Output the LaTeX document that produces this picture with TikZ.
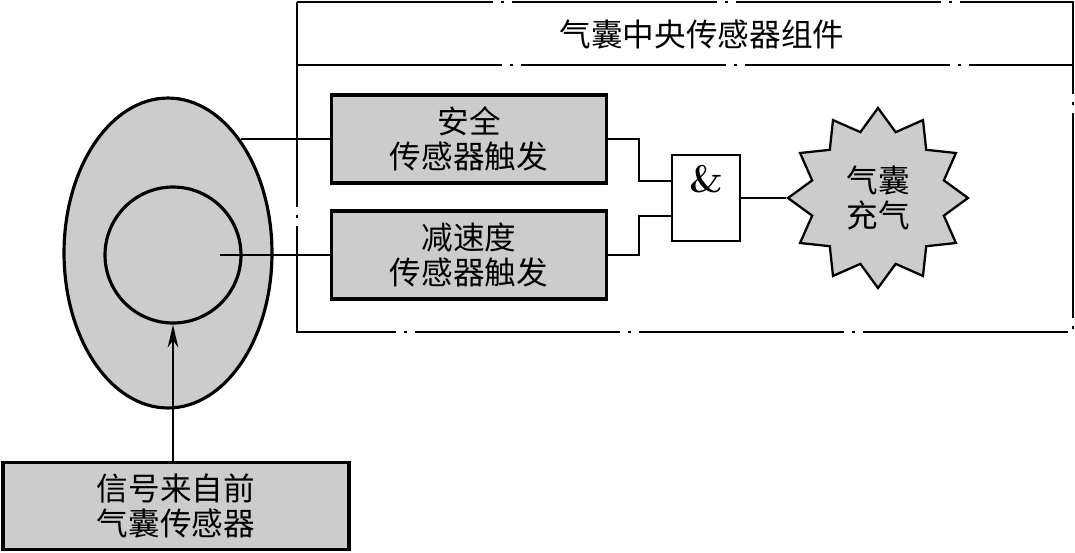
\documentclass[tikz,border=0pt]{standalone}
\usepackage{fontspec}
\usepackage{tikz}
\usetikzlibrary{positioning,calc,shapes.geometric,arrows.meta}
\newfontfamily\cjk{Noto Sans CJK SC}
\definecolor{SensorGray}{HTML}{CCCCCC}

\begin{document}
\begin{tikzpicture}[x=0.02cm,y=-0.02cm,
  font=\cjk\fontsize{18}{20}\selectfont,
  sensorbox/.style={draw, line width=1.8pt, fill=SensorGray, align=center, inner sep=0pt},
  wire/.style={line width=1.1pt},
  frameline/.style={line width=1.3pt, dash pattern=on 4.1cm off 0.16cm on 0.06cm off 0.16cm}]
  \useasboundingbox (0,0) rectangle (1075,552);
  \draw[frameline] (297,2) rectangle (1073,332);
  \draw[frameline] (297,65) -- (1073,65);
  \node (title) at (702,35) {气囊中央传感器组件};
  \node[ellipse, draw, line width=1.8pt, fill=SensorGray, minimum width=4.16cm, minimum height=6.2cm] (egg) at (168,253) {};
  \node[circle, draw, line width=1.8pt, fill=SensorGray, minimum size=2.72cm] (ring) at (173,255) {};
  \coordinate (ringtap) at ($(ring.center)+(47,0)$);
  \node[sensorbox, minimum width=5.5cm, minimum height=1.76cm] (safe) at (469,139) {安全\\传感器触发};
  \node[sensorbox, minimum width=5.5cm, minimum height=1.76cm] (decel) at (469,255) {减速度\\传感器触发};
  \node[sensorbox, minimum width=6.92cm, minimum height=1.74cm] (front) at (176,506) {信号来自前\\气囊传感器};
  \node[draw, line width=1.3pt, fill=white, minimum width=1.36cm, minimum height=1.72cm,
        label={[anchor=north, yshift=-0.1cm]north:{\normalfont\bfseries\fontsize{22}{24}\selectfont\&}}] (gate) at (706,198) {};
  \node[star, star points=12, star point ratio=1.32, draw, line width=1.3pt, fill=SensorGray,
        minimum size=3.6cm, inner sep=0pt, align=center] (burst) at (878,198) {气囊\\充气};
  \draw[wire] (safe.west) -- (safe.west -| egg.57.8);
  \draw[wire] (ringtap) -- (ringtap -| decel.west);
  \draw[wire] (safe.east) -- ++(31,0) |- ($(gate.west)+(0,-17)$);
  \draw[wire] (decel.east) -- ++(31,0) |- ($(gate.west)+(0,18)$);
  \draw[wire] (gate.east) -- (burst.west);
  \draw[wire, -{Stealth[length=13pt, width=6pt, inset=4pt]}] (ring.south |- front.north) -- (ring.south);
\end{tikzpicture}
\end{document}
